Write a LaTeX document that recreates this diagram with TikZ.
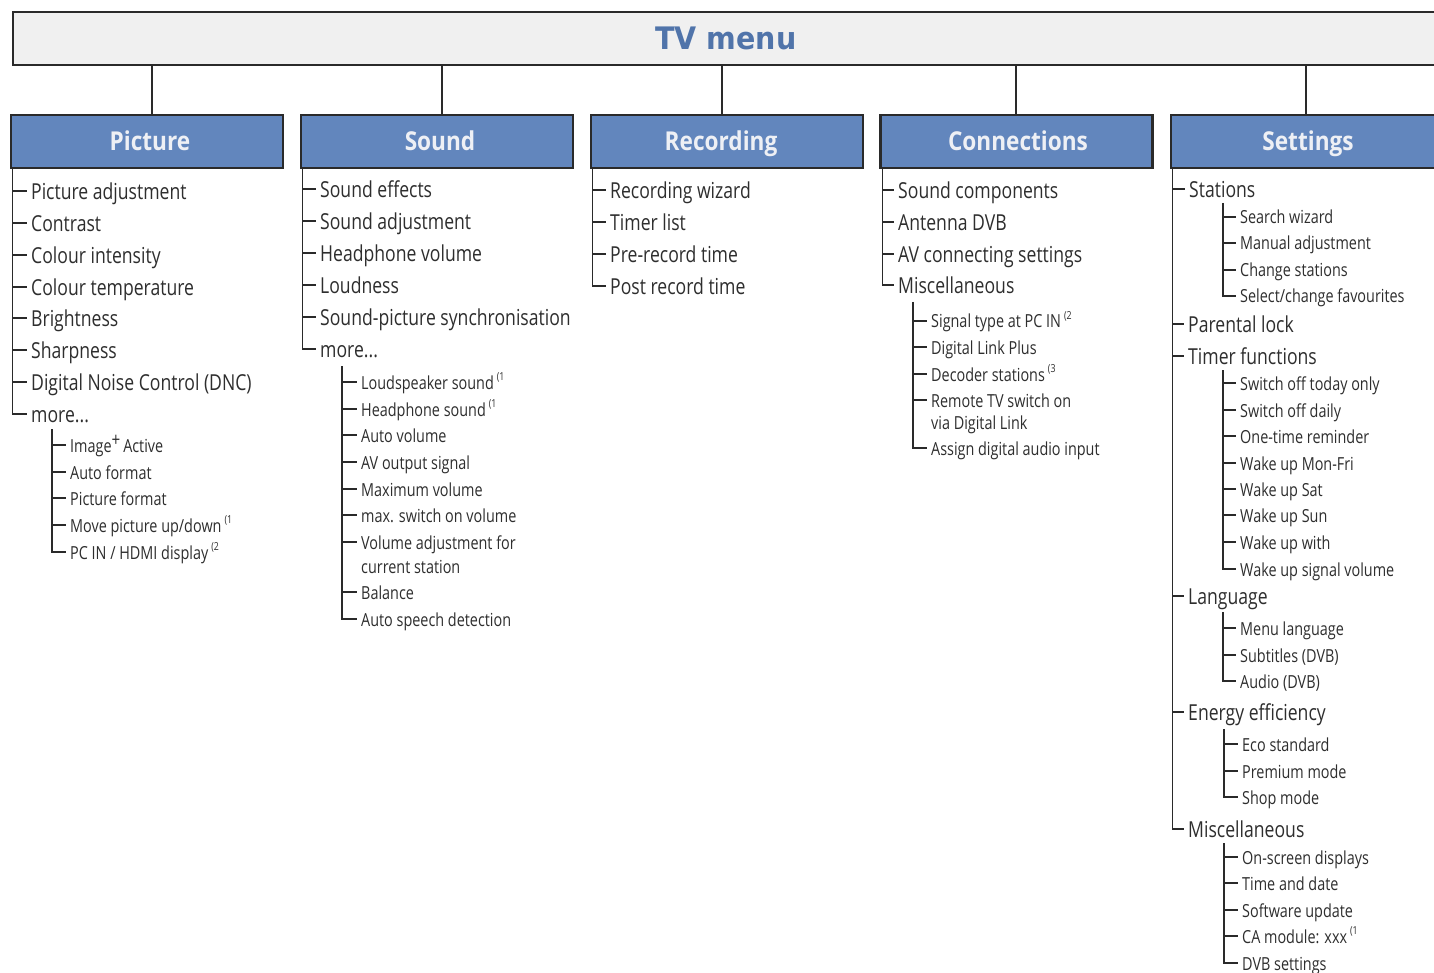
\documentclass[tikz,border=0pt]{standalone}
\usepackage{fontspec}
\newfontfamily\itemfont[FakeStretch=0.8]{Open Sans}
\newfontfamily\hdfont[FakeStretch=0.87]{Open Sans}
\newfontfamily\ttlfont[FakeStretch=0.92]{DejaVu Sans}
\definecolor{txt}{HTML}{2E2E2E}
\definecolor{ln}{HTML}{2A2A2A}
\definecolor{hdfill}{HTML}{6286BD}
\definecolor{hdtext}{HTML}{EEF0F5}
\definecolor{ttl}{HTML}{5074AA}
\definecolor{banner}{HTML}{F0F0F0}
\newcommand\supn[1]{\,\raisebox{0.45em}{\fontsize{11}{11}\selectfont(#1}}
\newcommand\tickto[2]{\draw[tree] (#2.west -| #1) -- (#2.west);}
\tikzset{
  tree/.style={draw=ln, line width=1.8pt, shorten >=4pt},
  conn/.style={draw=ln, line width=2.6pt},
  mitem/.style={anchor=west, inner sep=0pt, text=txt, font={\itemfont\fontsize{22}{26}\selectfont}, text height=17pt, text depth=0pt},
  sitem/.style={anchor=west, inner sep=0pt, text=txt, font={\itemfont\fontsize{18}{22}\selectfont}, text height=14pt, text depth=0pt},
  hdrbox/.style={draw=ln, line width=2.6pt, fill=hdfill, minimum width=272pt, minimum height=53pt, inner sep=0pt},
  hdrtext/.style={inner sep=0pt, text=hdtext, font={\hdfont\bfseries\fontsize{26}{30}\selectfont}, text height=18.7pt, text depth=0pt},
}
\begin{document}
\begin{tikzpicture}[x=1pt,y=-1pt]
\clip (0,0) rectangle (1434,973);
\fill[white] (0,0) rectangle (1434,973);
% banner
\node[draw=ln, line width=2.8pt, fill=banner, minimum width=1426pt, minimum height=53pt, inner sep=0pt, text=ttl, font={\ttlfont\bfseries\fontsize{31}{34}\selectfont}, text height=22.5pt, text depth=0pt] (menu) at (726,38.5) {TV menu};
% connector columns
\coordinate (kP) at (152,0);
\coordinate (kS) at (442,0);
\coordinate (kR) at (722,0);
\coordinate (kC) at (1016,0);
\coordinate (kT) at (1306,0);
% headers
\node[hdrbox] (hP) at (147,141.5) {};
\node[hdrbox] (hS) at (437,141.5) {};
\node[hdrbox] (hR) at (727,141.5) {};
\node[hdrbox] (hC) at (1016.5,141.5) {};
\node[hdrbox] (hT) at (1307,141.5) {};
\node[hdrtext] (hPt) at (hP.center -| 150,0) {Picture};
\node[hdrtext] (hSt) at (hS.center -| 440,0) {Sound};
\node[hdrtext] (hRt) at (hR.center -| 721,0) {Recording};
\node[hdrtext] (hCt) at (hC.center -| 1018,0) {Connections};
\node[hdrtext] (hTt) at (hT.center -| 1308,0) {Settings};
\draw[conn] (menu.south -| kP) -- (hP.north -| kP);
\draw[conn] (menu.south -| kS) -- (hS.north -| kS);
\draw[conn] (menu.south -| kR) -- (hR.north -| kR);
\draw[conn] (menu.south -| kC) -- (hC.north -| kC);
\draw[conn] (menu.south -| kT) -- (hT.north -| kT);

% ---------- Picture ----------
\node[mitem] (p1) at (31,191) {Picture adjustment};
\node[mitem] (p2) at (31,223) {Contrast};
\node[mitem] (p3) at (31,255) {Colour intensity};
\node[mitem] (p4) at (31,287) {Colour temperature};
\node[mitem] (p5) at (31,318) {Brightness};
\node[mitem] (p6) at (31,350) {Sharpness};
\node[mitem] (p7) at (31,382) {Digital Noise Control (DNC)};
\node[mitem] (p8) at (31,414) {more...};
\coordinate (vP) at (12.5,168);
\draw[tree] (hP.south -| vP) |- (p8.west);
\tickto{vP}{p1}\tickto{vP}{p2}\tickto{vP}{p3}\tickto{vP}{p4}\tickto{vP}{p5}\tickto{vP}{p6}\tickto{vP}{p7}
\node[sitem] (pa) at (70,445) {Image\raisebox{0.32em}{\fontsize{19}{19}\selectfont +}\,Active};
\node[sitem] (pb) at (70,472) {Auto format};
\node[sitem] (pc) at (70,498) {Picture format};
\node[sitem] (pd) at (70,525) {Move picture up/down\supn{1}};
\node[sitem] (pe) at (70,552) {PC IN / HDMI display\supn{2}};
\coordinate (vPs) at (52,429);
\draw[tree] (vPs) |- (pe.west);
\tickto{vPs}{pa}\tickto{vPs}{pb}\tickto{vPs}{pc}\tickto{vPs}{pd}

% ---------- Sound ----------
\node[mitem] (s1) at (320,189) {Sound effects};
\node[mitem] (s2) at (320,221) {Sound adjustment};
\node[mitem] (s3) at (320,253) {Headphone volume};
\node[mitem] (s4) at (320,285) {Loudness};
\node[mitem] (s5) at (320,317) {Sound-picture synchronisation};
\node[mitem] (s6) at (320,349) {more...};
\coordinate (vS) at (302.5,168);
\draw[tree] (hS.south -| vS) |- (s6.west);
\tickto{vS}{s1}\tickto{vS}{s2}\tickto{vS}{s3}\tickto{vS}{s4}\tickto{vS}{s5}
\node[sitem] (sa) at (361,382) {Loudspeaker sound\supn{1}};
\node[sitem] (sb) at (361,409) {Headphone sound\supn{1}};
\node[sitem] (sc) at (361,435) {Auto volume};
\node[sitem] (sd) at (361,462) {AV output signal};
\node[sitem] (se) at (361,489) {Maximum volume};
\node[sitem] (sf) at (361,515) {max. switch on volume};
\node[sitem] (sg) at (361,542) {Volume adjustment for};
\node[sitem] (sg2) at (361,566) {current station};
\node[sitem] (sh) at (361,592) {Balance};
\node[sitem] (si) at (361,619) {Auto speech detection};
\coordinate (vSs) at (342,366);
\draw[tree] (vSs) |- (si.west);
\tickto{vSs}{sa}\tickto{vSs}{sb}\tickto{vSs}{sc}\tickto{vSs}{sd}\tickto{vSs}{se}\tickto{vSs}{sf}\tickto{vSs}{sg}\tickto{vSs}{sh}

% ---------- Recording ----------
\node[mitem] (r1) at (610,190) {Recording wizard};
\node[mitem] (r2) at (610,222) {Timer list};
\node[mitem] (r3) at (610,254) {Pre-record time};
\node[mitem] (r4) at (610,286) {Post record time};
\coordinate (vR) at (592.5,168);
\draw[tree] (hR.south -| vR) |- (r4.west);
\tickto{vR}{r1}\tickto{vR}{r2}\tickto{vR}{r3}

% ---------- Connections ----------
\node[mitem] (c1) at (898,190) {Sound components};
\node[mitem] (c2) at (898,222) {Antenna DVB};
\node[mitem] (c3) at (898,254) {AV connecting settings};
\node[mitem] (c4) at (898,285) {Miscellaneous};
\coordinate (vC) at (882.5,168);
\draw[tree] (hC.south -| vC) |- (c4.west);
\tickto{vC}{c1}\tickto{vC}{c2}\tickto{vC}{c3}
\node[sitem] (ca) at (931,321) {Signal type at PC IN\supn{2}};
\node[sitem] (cb) at (931,347) {Digital Link Plus};
\node[sitem] (cc) at (931,374) {Decoder stations\supn{3}};
\node[sitem] (cd) at (931,400) {Remote TV switch on};
\node[sitem] (cd2) at (931,422) {via Digital Link};
\node[sitem] (ce) at (931,448) {Assign digital audio input};
\coordinate (vCs) at (913,302);
\draw[tree] (vCs) |- (ce.west);
\tickto{vCs}{ca}\tickto{vCs}{cb}\tickto{vCs}{cc}\tickto{vCs}{cd}

% ---------- Settings ----------
\node[mitem] (t1) at (1189,189) {Stations};
\node[mitem] (t2) at (1188,324) {Parental lock};
\node[mitem] (t3) at (1188,356) {Timer functions};
\node[mitem] (t4) at (1188,596) {Language};
\node[mitem] (t5) at (1188,712) {Energy efficiency};
\node[mitem] (t6) at (1188,829) {Miscellaneous};
\coordinate (vT) at (1172.5,168);
\draw[tree] (hT.south -| vT) |- (t6.west);
\tickto{vT}{t1}\tickto{vT}{t2}\tickto{vT}{t3}\tickto{vT}{t4}\tickto{vT}{t5}
% Stations
\node[sitem] (ta1) at (1240,217) {Search wizard};
\node[sitem] (ta2) at (1240,243) {Manual adjustment};
\node[sitem] (ta3) at (1240,270) {Change stations};
\node[sitem] (ta4) at (1240,296) {Select/change favourites};
\coordinate (vTa) at (1223,203);
\draw[tree] (vTa) |- (ta4.west);
\tickto{vTa}{ta1}\tickto{vTa}{ta2}\tickto{vTa}{ta3}
% Timer functions
\node[sitem] (tb1) at (1240,383) {Switch off today only};
\node[sitem] (tb2) at (1240,410) {Switch off daily};
\node[sitem] (tb3) at (1240,436) {One-time reminder};
\node[sitem] (tb4) at (1240,463) {Wake up Mon-Fri};
\node[sitem] (tb5) at (1240,489) {Wake up Sat};
\node[sitem] (tb6) at (1240,515) {Wake up Sun};
\node[sitem] (tb7) at (1240,542) {Wake up with};
\node[sitem] (tb8) at (1240,569) {Wake up signal volume};
\coordinate (vTb) at (1223,370);
\draw[tree] (vTb) |- (tb8.west);
\tickto{vTb}{tb1}\tickto{vTb}{tb2}\tickto{vTb}{tb3}\tickto{vTb}{tb4}\tickto{vTb}{tb5}\tickto{vTb}{tb6}\tickto{vTb}{tb7}
% Language
\node[sitem] (tc1) at (1240,628) {Menu language};
\node[sitem] (tc2) at (1240,655) {Subtitles (DVB)};
\node[sitem] (tc3) at (1240,681) {Audio (DVB)};
\coordinate (vTc) at (1223,612);
\draw[tree] (vTc) |- (tc3.west);
\tickto{vTc}{tc1}\tickto{vTc}{tc2}
% Energy efficiency
\node[sitem] (td1) at (1242,744) {Eco standard};
\node[sitem] (td2) at (1242,771) {Premium mode};
\node[sitem] (td3) at (1242,797) {Shop mode};
\coordinate (vTd) at (1224,729);
\draw[tree] (vTd) |- (td3.west);
\tickto{vTd}{td1}\tickto{vTd}{td2}
% Miscellaneous
\node[sitem] (te1) at (1242,857) {On-screen displays};
\node[sitem] (te2) at (1242,883) {Time and date};
\node[sitem] (te3) at (1242,910) {Software update};
\node[sitem] (te4) at (1242,936) {CA module: xxx\supn{1}};
\node[sitem] (te5) at (1242,963) {DVB settings};
\coordinate (vTe) at (1224,843);
\draw[tree] (vTe) |- (te5.west);
\tickto{vTe}{te1}\tickto{vTe}{te2}\tickto{vTe}{te3}\tickto{vTe}{te4}
\end{tikzpicture}
\end{document}
